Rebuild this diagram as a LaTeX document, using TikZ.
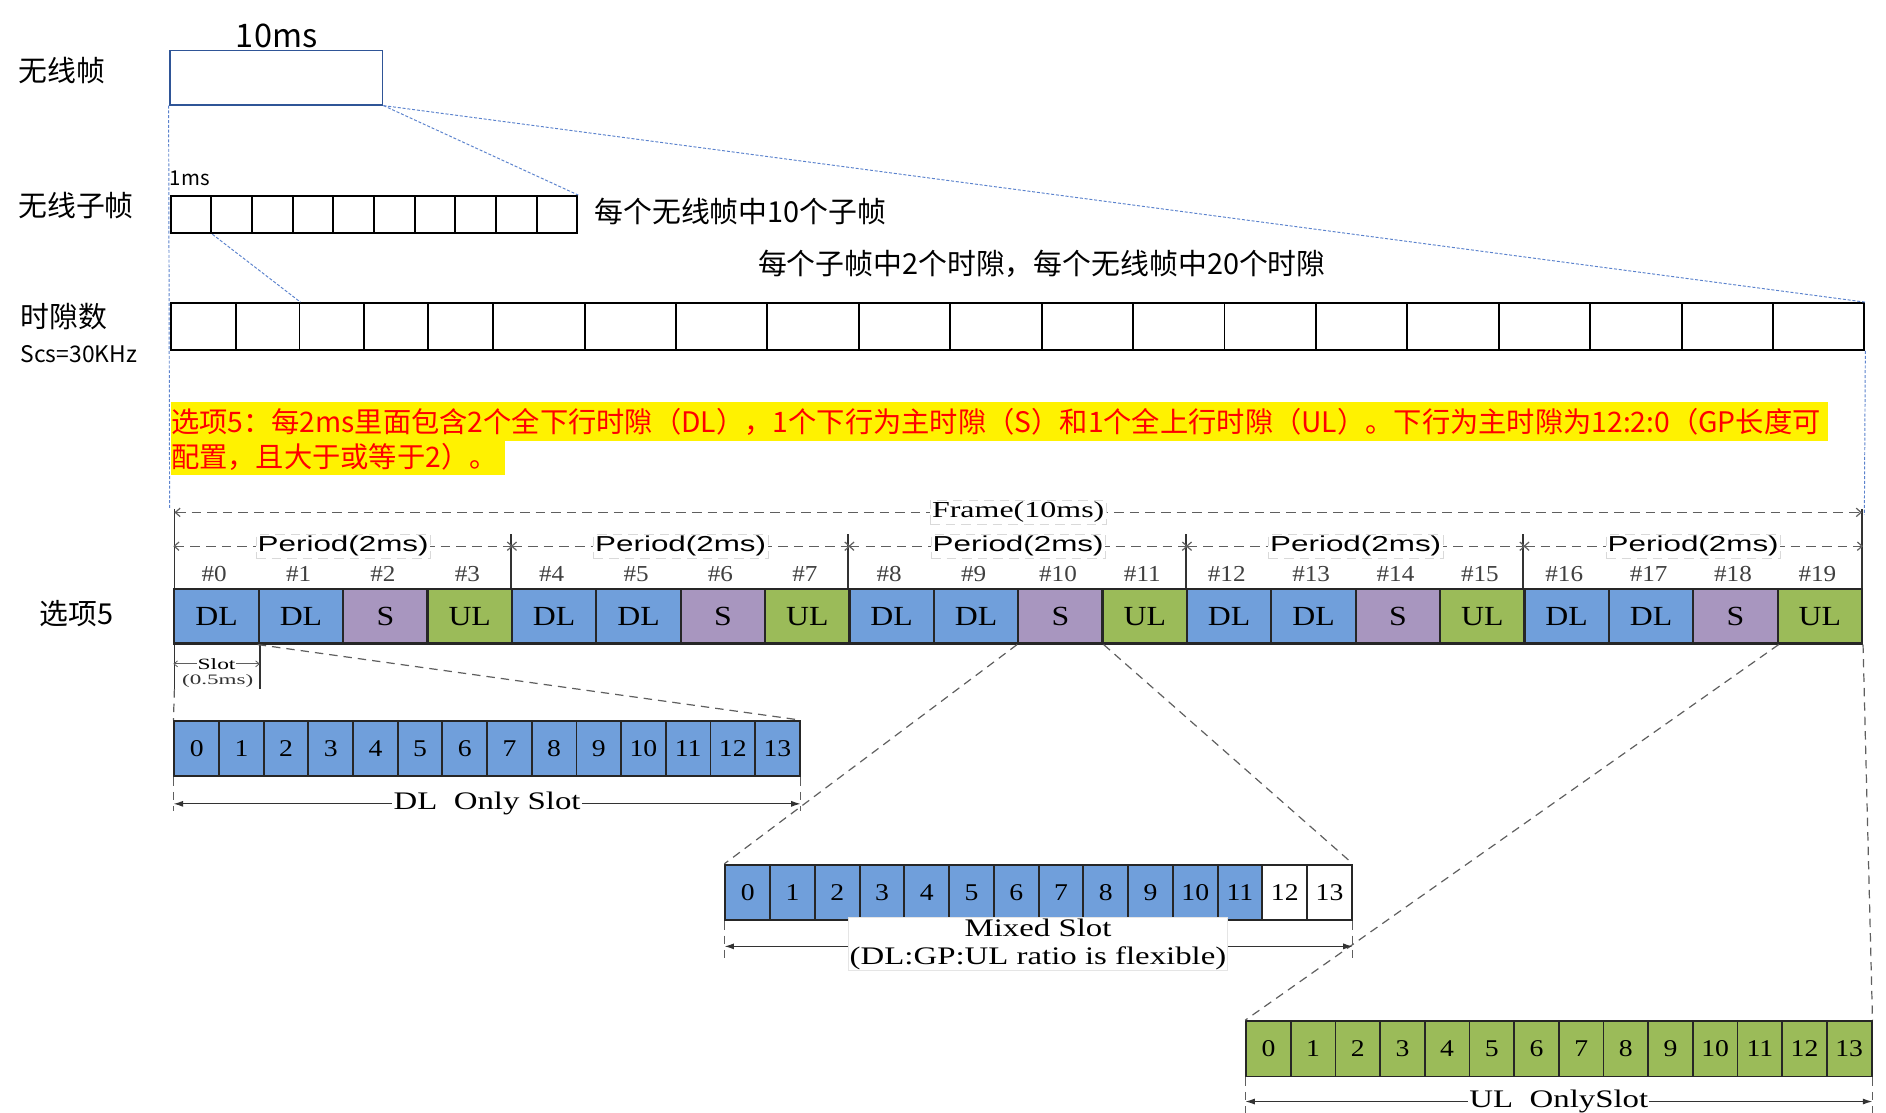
\documentclass[tikz,border=0pt]{standalone}
\usepackage{graphicx}
\usepackage{fontspec}
\setmainfont{Liberation Serif}
\newfontfamily\cjkf{Noto Sans CJK SC}
\newfontfamily\lsans{Liberation Sans}
\usetikzlibrary{arrows.meta,calc}
\newcommand{\myfs}[1]{\fontsize{#1}{#1}\selectfont}
\definecolor{dlc}{RGB}{112,159,219}
\definecolor{sc}{RGB}{168,150,191}
\definecolor{ulc}{RGB}{155,187,89}
\definecolor{bdash}{RGB}{91,130,205}
\definecolor{rfblue}{RGB}{47,85,151}
\definecolor{dimgray}{RGB}{95,95,95}
\begin{document}
\begin{tikzpicture}[x=1pt,y=-1pt,
  cjklbl/.style={font=\cjkf\myfs{24}, inner sep=0pt, anchor=west},
  rfbox/.style={draw=rfblue, line width=1.6pt, minimum width=177pt, minimum height=45pt, inner sep=0pt},
  sfcell/.style={draw=black, line width=1.6pt, minimum width=33.8pt, minimum height=31pt, inner sep=0pt},
  tscell/.style={draw=black, line width=1.6pt, minimum height=39pt, inner sep=0pt},
  bluedash/.style={draw=bdash, line width=0.8pt, dash pattern=on 2.5pt off 1.5pt},
  slotbox/.style={draw=black!85, line width=1.8pt, minimum width=70.15pt, minimum height=45pt, inner sep=0pt, font=\myfs{23}},
  symcell/.style={draw=black!85, line width=1.6pt, minimum height=46pt, inner sep=0pt, font=\myfs{20}},
  hashlbl/.style={font=\myfs{19}, inner sep=0pt, text=black!75},
  dimdash/.style={draw=dimgray, line width=1pt, dash pattern=on 8pt off 5pt, {Straight Barb[length=4pt,width=7pt]}-{Straight Barb[length=4pt,width=7pt]}},
  tag/.style={fill=white, draw=black!15, line width=0.5pt, inner sep=1.5pt},
  zoomline/.style={draw=dimgray, line width=1pt, dash pattern=on 7pt off 5pt},
  dimarrow/.style={draw=black!80, line width=1pt, {Latex[length=8pt,width=5pt]}-{Latex[length=8pt,width=5pt]}},
  solidline/.style={draw=black!80, line width=1.5pt},
]
\useasboundingbox (0,0) rectangle (1568,925);

% ---------- top: radio frame ----------
\node[font=\cjkf\myfs{27}, inner sep=0pt] (tenms) at (230,30) {10ms};
\node[rfbox] (rf) at (229.5,64.5) {};
\node[cjklbl] (lrf) at (15,59) {无线帧};

\node[font=\cjkf\myfs{17}, inner sep=0pt, anchor=west] (onems) at (141,148) {1ms};
\foreach \i in {0,...,9} \node[sfcell] (sf\i) at ({142+33.8*(\i+0.5)},178.5) {};
\node[cjklbl] (lsf) at (15,171) {无线子帧};
\node[cjklbl] (nsf) at (494,176) {每个无线帧中10个子帧};
\node[cjklbl] (nts) at (630,219) {每个子帧中2个时隙，每个无线帧中20个时隙};

\foreach \i/\a/\b in {0/142/196,1/196/249,2/249/303,3/303/356,4/356/410,5/410/486,6/486/562,7/562/638,8/638/714,9/714/790,10/790/866,11/866/942,12/942/1018,13/1018/1094,14/1094/1170,15/1170/1246,16/1246/1322,17/1322/1398,18/1398/1474,19/1474/1550}
  \node[tscell, minimum width={\b-\a}] (ts\i) at ({(\a+\b)/2},271.5) {};
\node[cjklbl] (lts) at (17,263) {时隙数};
\node[font=\cjkf\myfs{19}, inner sep=0pt, anchor=west] (scs) at (17,294) {Scs=30KHz};

% ---------- highlighted note ----------
\fill[yellow] (142,334) rectangle (1520,367);
\fill[yellow] (142,367) rectangle (420,395);
\node[font=\cjkf\myfs{23.5}, text=red, inner sep=0pt, anchor=west] (opt1) at (142,351) {选项5：每2ms里面包含2个全下行时隙（DL），1个下行为主时隙（S）和1个全上行时隙（UL）。下行为主时隙为12:2:0（GP长度可};
\node[font=\cjkf\myfs{23.5}, text=red, inner sep=0pt, anchor=west] (opt2) at (142,380) {配置，且大于或等于2）。};

% ---------- blue dashed guides ----------
\coordinate (blb) at (141,423);
\coordinate (brb) at (1550,428);
\draw[bluedash] (rf.south west) -- (blb);
\draw[bluedash] (rf.south east) -- (sf9.north east);
\draw[bluedash] (rf.south east) -- (ts19.north east);
\draw[bluedash] (sf0.south east) -- (ts1.north east);
\draw[bluedash] (ts19.south east) -- (brb);

% ---------- option 5 slots ----------
\node[cjklbl] (opt5) at (33,510) {选项5};

\coordinate (ftl) at (145,423);
\coordinate (ftr) at (1548,423);
\coordinate (slb) at (145,573);
\draw[solidline] (ftl) -- (slb);
\draw[solidline] (ftr) -- (1548,490);

\foreach \p in {0,...,4} \foreach \k/\ty/\col in {0/DL/dlc,1/DL/dlc,2/S/sc,3/UL/ulc} {
  \pgfmathtruncatemacro\n{4*\p+\k}
  \node[slotbox, fill=\col] (b\n) at ({145+70.15*(\n+0.5)},512.5) {\scalebox{1.15}[1]{\ty}};
  \node[hashlbl] (h\n) at ({145+70.15*(\n+0.5)-2},477) {\scalebox{1.1}[1]{\#\n}};
}
\foreach \i in {4,8,12,16} \draw[solidline] (b\i.north west) -- ++(0,-45);
\draw[solidline] (b0.south east) -- ++(0,37);

\coordinate (fa) at (145,426);
\coordinate (fb) at (1548,426);
\draw[dimdash] (fa) -- node[tag, font=\myfs{19}] (frl) {\scalebox{1.4}[1]{Frame(10ms)}} (fb);

\foreach \p in {0,...,4} {
  \pgfmathtruncatemacro\ps{4*\p}
  \pgfmathtruncatemacro\pe{4*\p+3}
  \draw[dimdash] ($(b\ps.north west)+(0,-35)$) -- node[tag, font=\lsans\myfs{18}] (pl\p) {\scalebox{1.45}[1]{Period(2ms)}} ($(b\pe.north east)+(0,-35)$);
}

\draw[draw=dimgray, line width=0.7pt, {Straight Barb[length=3pt,width=5pt]}-{Straight Barb[length=3pt,width=5pt]}] ($(b0.south west)+(0,16)$) -- node[fill=white, inner sep=0.5pt, font=\myfs{13}] (slt) {\scalebox{1.5}[1]{Slot}} ($(b0.south east)+(0,16)$);
\node[font=\myfs{12}, inner sep=0pt, text=black!80] (slt2) at (181,566) {\scalebox{1.6}[1]{(0.5ms)}};

% ---------- symbol rows ----------
\foreach \i in {0,...,13} {
  \node[symcell, fill=dlc, minimum width=37.14] (dl\i) at ({145+37.14*(\i+0.5)},622.5) {\scalebox{1.15}[1]{\i}};
  \node[symcell, fill=ulc, minimum width=37.14] (ul\i) at ({1036+37.14*(\i+0.5)},872) {\scalebox{1.15}[1]{\i}};
}
\foreach \i in {0,...,11}
  \node[symcell, fill=dlc, minimum width=37.21] (mx\i) at ({603+37.21*(\i+0.5)},742) {\scalebox{1.15}[1]{\i}};
\foreach \i in {12,13}
  \node[symcell, fill=white, minimum width=37.21] (mx\i) at ({603+37.21*(\i+0.5)},742) {\scalebox{1.15}[1]{\i}};

% ---------- zoom guides ----------
\draw[zoomline] (slb) -- (dl0.north west);
\draw[zoomline] (b1.south west) -- (dl13.north east);
\draw[zoomline] (b10.south west) -- (mx0.north west);
\draw[zoomline] (b10.south east) -- (mx13.north east);
\draw[zoomline] (b18.south east) -- (ul0.north west);
\draw[zoomline] (b19.south east) -- (ul13.north east);
\draw[zoomline] (dl0.south west) -- ++(0,28);
\draw[zoomline] (dl13.south east) -- ++(0,28);
\draw[zoomline] (mx0.south west) -- ++(0,32);
\draw[zoomline] (mx13.south east) -- ++(0,32);
\draw[zoomline] (ul0.south west) -- ++(0,30);
\draw[zoomline] (ul13.south east) -- ++(0,30);

% ---------- dimension arrows ----------
\draw[dimarrow] ($(dl0.south west)+(0,22)$) -- node[fill=white, inner sep=1pt, font=\myfs{21}] (dll) {\scalebox{1.3}[1]{DL\ \ Only Slot}} ($(dl13.south east)+(0,22)$);
\draw[dimarrow] ($(mx0.south west)+(0,21)$) -- ($(mx13.south east)+(0,21)$);
\node[fill=white, draw=black!10, line width=0.5pt, inner sep=1pt, align=center, font=\fontsize{21}{23}\selectfont] (mxl) at (863,785) {\scalebox{1.3}[1]{Mixed Slot}\\\scalebox{1.3}[1]{(DL:GP:UL ratio is flexible)}};
\draw[dimarrow] ($(ul0.south west)+(0,20)$) -- node[fill=white, inner sep=1pt, font=\myfs{21}] (ull) {\scalebox{1.3}[1]{UL\ \ OnlySlot}} ($(ul13.south east)+(0,20)$);
\end{tikzpicture}
\end{document}
